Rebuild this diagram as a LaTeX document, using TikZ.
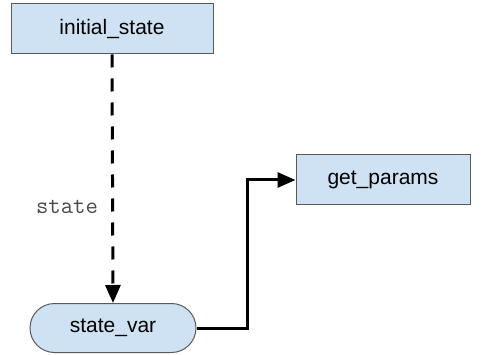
\documentclass[tikz,border=0pt]{standalone}
\usepackage{fontspec}
\setmainfont{Liberation Sans}
\usetikzlibrary{arrows.meta,shapes.misc}
\definecolor{boxfill}{HTML}{CFE2F3}
\definecolor{boxline}{HTML}{595959}
\definecolor{labgray}{HTML}{4A4A4A}
\begin{document}
\begin{tikzpicture}[x=1pt,y=-1pt,
  rectbox/.style={draw=boxline,fill=boxfill,line width=1pt,minimum width=202pt,minimum height=50pt,inner sep=0pt,font=\fontsize{21}{24}\selectfont},
  pillbox/.style={draw=boxline,fill=boxfill,line width=1pt,rounded rectangle,minimum width=166pt,minimum height=49pt,inner sep=0pt,font=\fontsize{21}{24}\selectfont},
  conn/.style={line width=3pt,-{Triangle[length=18pt,width=15pt]}},
  dashconn/.style={conn,dash pattern=on 13pt off 11pt}]
\useasboundingbox (0,0) rectangle (497,355);
\node[rectbox] (init) at (112,29) {initial\_state};
\node[rectbox,minimum width=174pt] (get) at (383,180) {get\_params};
\node[pillbox] (var) at (113,328) {state\_var};
\draw[dashconn] (init.south) -- (var.north);
\node[font=\ttfamily\fontsize{24}{26}\selectfont,text=labgray] (lab) at (67,207) {state};
\draw[conn,line join=miter] (var.east) -| (247,180) -- (get.west);
\end{tikzpicture}
\end{document}
